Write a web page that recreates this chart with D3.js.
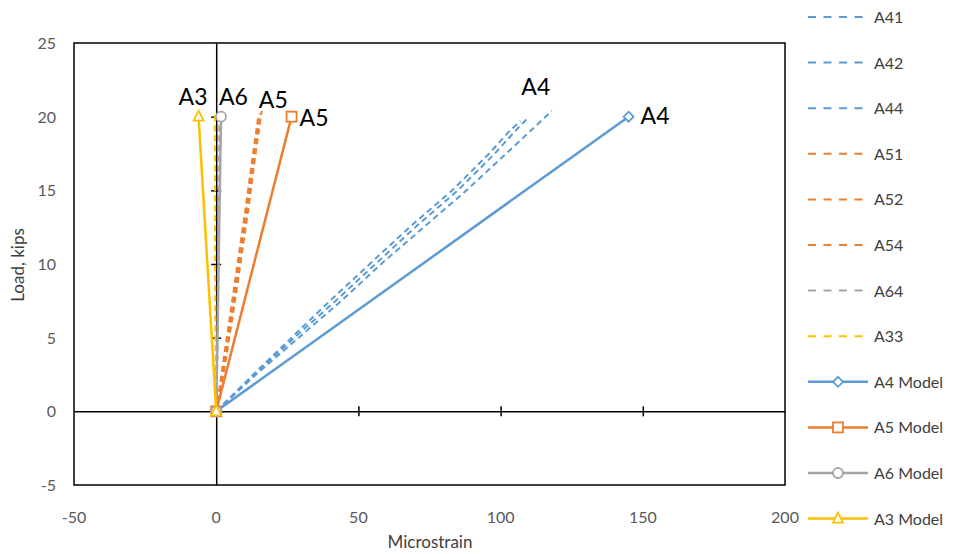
<!DOCTYPE html>
<html><head><meta charset="utf-8">
<script src="https://cdn.jsdelivr.net/npm/d3@7"></script>
<style>body{margin:0;background:#fff;font-family:Lato,"Open Sans",sans-serif;}</style>
</head><body><svg id="c" width="959" height="554"></svg>
<script>
// ---- data ----
const xTicks = [-50, 0, 50, 100, 150, 200];
const yTicks = [-5, 0, 5, 10, 15, 20, 25];
const A41 = [[0,0],[14,2.5],[29,5],[44,7.5],[58,10],[73,12.5],[88,15],[102,17.5],[112,19.3],[118,20.4]];
const A42 = [[0,0],[13.5,2.5],[27.5,5],[42,7.5],[56,10],[70,12.5],[85,15],[98,17.5],[105,19],[110,20]];
const A44 = [[0,0],[13,2.5],[26.5,5],[40,7.5],[54,10],[68,12.5],[83,15],[96,17.5],[103,19],[107,19.7]];
const A51 = [[0,0],[3,3],[7,8],[11.5,14],[13.5,17],[16,20.4]];
const A52 = [[0,0],[2.6,3],[6.5,8],[11,14],[13,17],[15.2,20.2]];
const A54 = [[0,0],[2.2,3],[6,8],[10.5,14],[12.6,17],[14.8,20]];
const A64 = [[0,0],[0.6,5],[0.8,10],[1,15],[1.1,20]];
const A33 = [[0,0],[-0.3,5],[-0.4,10],[-0.4,15],[-0.5,20.2]];
const A4Model = [[0,0],[145,20]];
const A5Model = [[0,0],[26.5,20]];
const A6Model = [[0,0],[1.7,20]];
const A3Model = [[0,0],[-6.2,20]];
const seriesNames = ["A41","A42","A44","A51","A52","A54","A64","A33","A4 Model","A5 Model","A6 Model","A3 Model"];
const labelTexts = [["A4",145,20],["A5",26.5,20],["A6",1.7,20],["A3",-6.2,20],["A5",15,20.4],["A4",108,21.2]];

const blue="#5B9BD5", orange="#ED7D31", gray="#A5A5A5", yellow="#FFC000";
const series = [
  {name:"A41",data:A41,color:blue,dash:true},
  {name:"A42",data:A42,color:blue,dash:true},
  {name:"A44",data:A44,color:blue,dash:true},
  {name:"A51",data:A51,color:orange,dash:true},
  {name:"A52",data:A52,color:orange,dash:true},
  {name:"A54",data:A54,color:orange,dash:true},
  {name:"A64",data:A64,color:gray,dash:true},
  {name:"A33",data:A33,color:yellow,dash:true},
  {name:"A4 Model",data:A4Model,color:blue,marker:"diamond"},
  {name:"A5 Model",data:A5Model,color:orange,marker:"square"},
  {name:"A6 Model",data:A6Model,color:gray,marker:"circle"},
  {name:"A3 Model",data:A3Model,color:yellow,marker:"triangle"}
];

const svg = d3.select("#c");
const L=74, R=785, T=43, B=485;
const x = d3.scaleLinear().domain([-50,200]).range([L,R]);
const y = d3.scaleLinear().domain([-5,25]).range([B,T]);

// border
svg.append("rect").attr("x",L).attr("y",T).attr("width",R-L).attr("height",B-T)
  .attr("fill","none").attr("stroke","#000").attr("stroke-width",1.5);

// tick labels
svg.append("g").selectAll("text").data(yTicks).join("text")
  .attr("x",L-18).attr("y",d=>y(d)+6).attr("text-anchor","end")
  .attr("font-size",16).attr("fill","#595959").text(d=>d);
svg.append("g").selectAll("text").data(xTicks).join("text")
  .attr("x",d=>x(d)).attr("y",B+38).attr("text-anchor","middle")
  .attr("font-size",16).attr("fill","#595959").text(d=>d);

// axis titles
svg.append("text").attr("x",430).attr("y",548).attr("text-anchor","middle")
  .attr("font-size",17).attr("fill","#404040").text("Microstrain");
svg.append("text").attr("transform","translate(24,265) rotate(-90)").attr("text-anchor","middle")
  .attr("font-size",17).attr("fill","#404040").text("Load, kips");

// zero axes with cross ticks
const xAx = d3.axisBottom(x).tickValues(xTicks.filter(d=>d>-50&&d<200)).tickSize(0).tickFormat("");
const gx = svg.append("g").attr("transform",`translate(0,${y(0)})`).call(xAx);
gx.select(".domain").attr("stroke","#000").attr("stroke-width",1.5);
gx.selectAll(".tick line").attr("y1",-5).attr("y2",5).attr("stroke","#000").attr("stroke-width",1.5);
const yAx = d3.axisLeft(y).tickValues(yTicks.filter(d=>d>-5&&d<25&&d!==0)).tickSize(0).tickFormat("");
const gy = svg.append("g").attr("transform",`translate(${x(0)},0)`).call(yAx);
gy.select(".domain").attr("stroke","#000").attr("stroke-width",1.5);
gy.selectAll(".tick line").attr("x1",-5).attr("x2",5).attr("stroke","#000").attr("stroke-width",1.5);

const line = d3.line().x(d=>x(d[0])).y(d=>y(d[1]));
function marker(g, type, cx, cy, color){
  const s=5;
  if(type==="diamond") g.append("path").attr("d",`M${cx},${cy-s}L${cx+s},${cy}L${cx},${cy+s}L${cx-s},${cy}Z`);
  else if(type==="square") g.append("rect").attr("x",cx-s).attr("y",cy-s).attr("width",2*s).attr("height",2*s);
  else if(type==="circle") g.append("circle").attr("cx",cx).attr("cy",cy).attr("r",s);
  else g.append("path").attr("d",`M${cx},${cy-s-1}L${cx+s},${cy+s-1}L${cx-s},${cy+s-1}Z`);
  g.selectAll("*").attr("fill","#fff").attr("stroke",color).attr("stroke-width",1.8);
}

// plot series
series.forEach(s=>{
  svg.append("path").datum(s.data).attr("d",line).attr("fill","none")
    .attr("stroke",s.color).attr("stroke-width",s.dash?2:2.5)
    .attr("stroke-dasharray",s.dash?"6,4":null);
});
series.filter(s=>s.marker).forEach(s=>{
  s.data.forEach(d=>{ const g=svg.append("g"); marker(g,s.marker,x(d[0]),y(d[1]),s.color); });
});

// data labels
const lblOff = [[12,7],[8,9],[-2,-12],[-20,-12],[0,-3],[-2,-4]];
svg.append("g").selectAll("text").data(labelTexts).join("text")
  .attr("x",(d,i)=>x(d[1])+lblOff[i][0]).attr("y",(d,i)=>y(d[2])+lblOff[i][1])
  .attr("font-size",23).attr("fill","#000").text(d=>d[0]);

// legend
const lg = svg.append("g");
series.forEach((s,i)=>{
  const yy = 17 + i*45.6;
  const g = lg.append("g");
  g.append("line").attr("x1",808).attr("x2",s.marker?868:864).attr("y1",yy).attr("y2",yy)
    .attr("stroke",s.color).attr("stroke-width",s.dash?2:2.5).attr("stroke-dasharray",s.dash?"8,7.5":null);
  if(s.marker){ const mg=g.append("g"); marker(mg,s.marker,838,yy,s.color); }
  g.append("text").attr("x",874).attr("y",yy+6).attr("font-size",16).attr("fill","#404040").text(s.name);
});
</script></body></html>
